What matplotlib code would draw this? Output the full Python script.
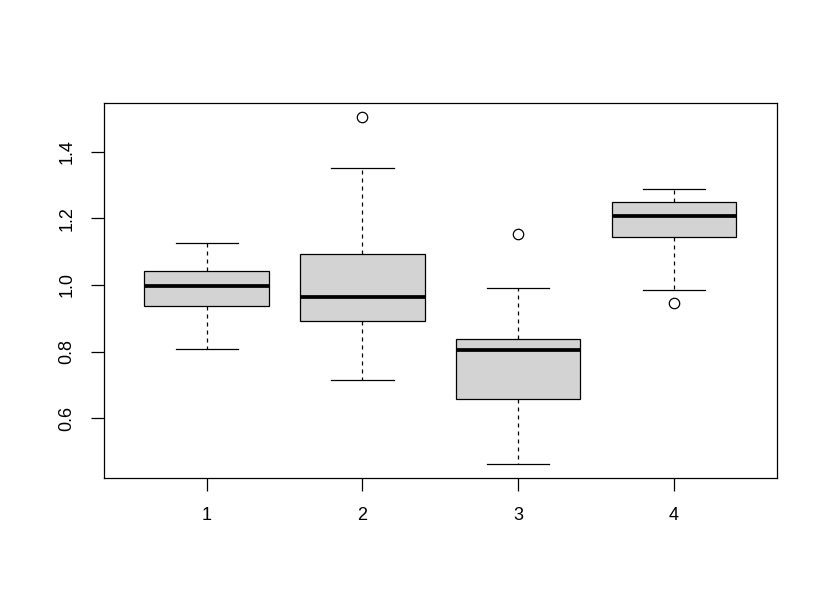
import matplotlib
matplotlib.use("Agg")
import matplotlib.pyplot as plt

plt.rcParams["font.family"] = ["Liberation Sans", "DejaVu Sans"]

# Box statistics
groups = ["1", "2", "3", "4"]
whisker_low = [0.808, 0.715, 0.462, 0.986]
q1 = [0.938, 0.892, 0.657, 1.143]
median = [0.998, 0.965, 0.805, 1.207]
q3 = [1.043, 1.094, 0.838, 1.250]
whisker_high = [1.127, 1.351, 0.990, 1.288]
outliers = [[], [1.505], [1.152], [0.945]]

stats = []
for i, g in enumerate(groups):
    stats.append({
        "label": g,
        "whislo": whisker_low[i],
        "q1": q1[i],
        "med": median[i],
        "q3": q3[i],
        "whishi": whisker_high[i],
        "fliers": outliers[i],
    })

fig = plt.figure(figsize=(8.3, 6.08), dpi=100)
ax = fig.add_axes([104 / 830, 1 - 478.3 / 608, (776.7 - 104) / 830, (478.3 - 102.7) / 608])

lw = 0.9
ax.bxp(
    stats,
    positions=[1, 2, 3, 4],
    widths=0.8,
    patch_artist=True,
    boxprops=dict(facecolor="#D3D3D3", edgecolor="black", linewidth=lw),
    medianprops=dict(color="black", linewidth=2.7, solid_capstyle="butt"),
    whiskerprops=dict(color="black", linewidth=lw, linestyle=(0, (3.2, 3.2))),
    capprops=dict(color="black", linewidth=lw),
    capwidths=0.4,
    flierprops=dict(marker="o", markerfacecolor="none", markeredgecolor="black",
                    markersize=7.5, markeredgewidth=lw),
)

lo = min(whisker_low + [v for o in outliers for v in o])
hi = max(whisker_high + [v for o in outliers for v in o])
pad = (hi - lo) * 0.04
ax.set_ylim(lo - pad, hi + pad)
ax.set_xlim(0.5 - 0.16, 4.5 + 0.16)

ax.set_yticks([0.6, 0.8, 1.0, 1.2, 1.4])
ax.set_yticklabels(["0.6", "0.8", "1.0", "1.2", "1.4"], rotation=90, va="center")
ax.set_xticks([1, 2, 3, 4])
ax.set_xticklabels(groups)
ax.tick_params(axis="both", length=9.5, width=lw, labelsize=13, pad=11, colors="black")

for s in ax.spines.values():
    s.set_linewidth(lw)

fig.savefig("out.png", dpi=100)
